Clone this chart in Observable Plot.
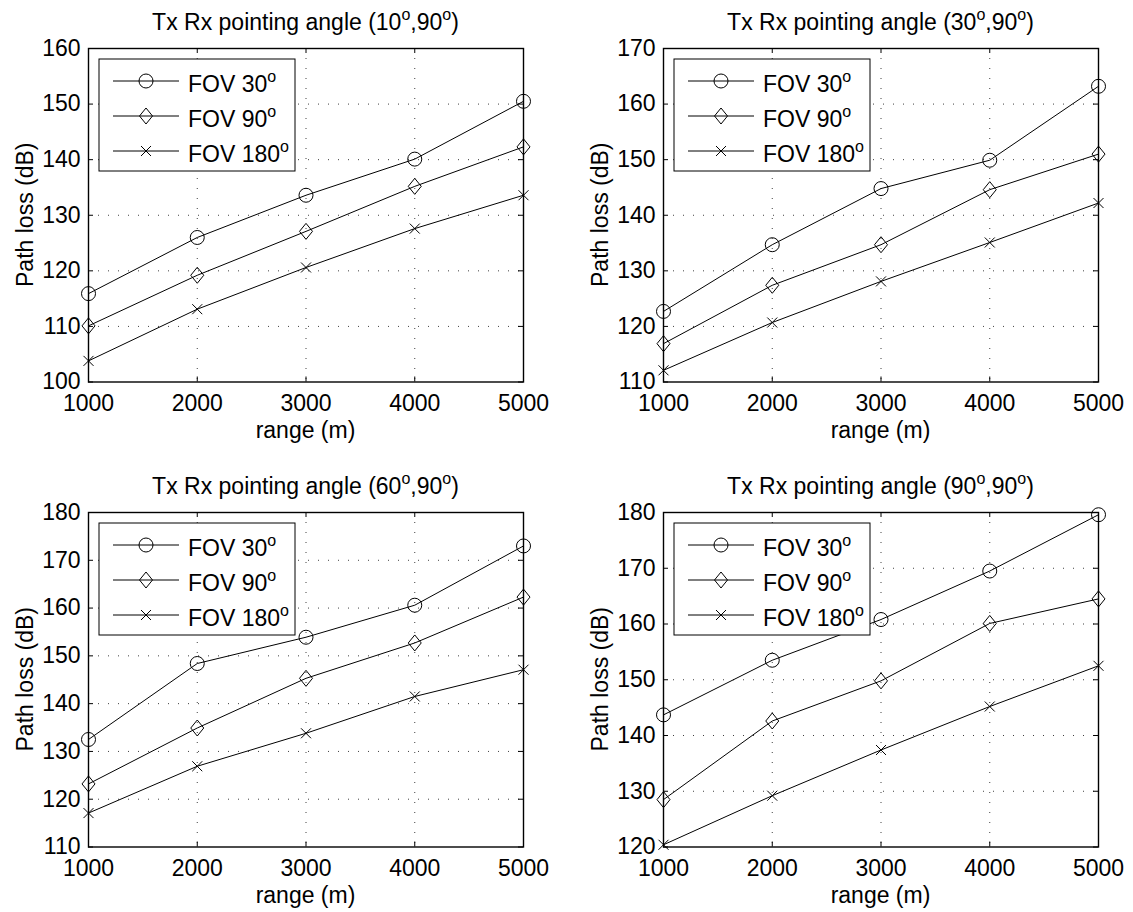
<!DOCTYPE html>
<html><head><meta charset="utf-8">
<script src="https://cdn.jsdelivr.net/npm/d3@7"></script>
<script src="https://cdn.jsdelivr.net/npm/@observablehq/plot@0.6"></script>
<style>
html,body{margin:0;padding:0;background:#fff;}
#wrap{position:relative;width:1133px;height:912px;overflow:hidden;background:#fff;}
#wrap svg{position:absolute;overflow:visible;}
</style></head><body><div id="wrap"></div>
<script>
// ---- data ----
const ranges = [1000, 2000, 3000, 4000, 5000];
const seriesNames = ["FOV 30", "FOV 90", "FOV 180"];
const xLabel = "range (m)";
const yLabel = "Path loss (dB)";

// Panel 1: Tx Rx pointing angle (10°,90°)
const p1_fov30  = [115.9, 126.0, 133.6, 140.1, 150.5];
const p1_fov90  = [110.1, 119.2, 127.1, 135.2, 142.3];
const p1_fov180 = [103.8, 113.1, 120.6, 127.6, 133.6];
// Panel 2: (30°,90°)
const p2_fov30  = [122.7, 134.7, 144.8, 149.9, 163.2];
const p2_fov90  = [116.9, 127.4, 134.7, 144.6, 151.0];
const p2_fov180 = [112.1, 120.7, 128.1, 135.1, 142.2];
// Panel 3: (60°,90°)
const p3_fov30  = [132.5, 148.4, 153.9, 160.6, 173.0];
const p3_fov90  = [123.2, 134.9, 145.3, 152.7, 162.3];
const p3_fov180 = [117.1, 126.9, 133.8, 141.5, 147.1];
// Panel 4: (90°,90°)
const p4_fov30  = [143.7, 153.5, 160.8, 169.5, 179.6];
const p4_fov90  = [128.5, 142.6, 149.8, 160.1, 164.5];
const p4_fov180 = [120.4, 129.2, 137.4, 145.2, 152.5];

const angles = [["10", "90"], ["30", "90"], ["60", "90"], ["90", "90"]];
const yDomains = [[100, 160], [110, 170], [110, 180], [120, 180]];

// ---- symbols (MATLAB-like markers) ----
const circleSym  = {draw(c) { c.moveTo(7, 0); c.arc(0, 0, 7, 0, 2 * Math.PI); }};
const diamondSym = {draw(c) { c.moveTo(0, -8); c.lineTo(6.5, 0); c.lineTo(0, 8); c.lineTo(-6.5, 0); c.closePath(); }};
const crossSym   = {draw(c) { c.moveTo(-5, -5); c.lineTo(5, 5); c.moveTo(-5, 5); c.lineTo(5, -5); }};
const symbols = [circleSym, diamondSym, crossSym];

// ---- layout ----
const panels = [
  {series: [p1_fov30, p1_fov90, p1_fov180], box: {left: 0,   top: 0,   width: 566, height: 464}, frame: {l: 88,  r: 523,  t: 48,  b: 381.5}},
  {series: [p2_fov30, p2_fov90, p2_fov180], box: {left: 566, top: 0,   width: 567, height: 464}, frame: {l: 663, r: 1098, t: 48,  b: 381.5}},
  {series: [p3_fov30, p3_fov90, p3_fov180], box: {left: 0,   top: 464, width: 566, height: 448}, frame: {l: 88,  r: 523,  t: 512, b: 846.5}},
  {series: [p4_fov30, p4_fov90, p4_fov180], box: {left: 566, top: 464, width: 567, height: 448}, frame: {l: 663, r: 1098, t: 512, b: 846.5}}
];

const FONT = '"Liberation Sans", Arial, Helvetica, sans-serif';
const FS = 23;
const SUP = 16;
const wrap = document.getElementById("wrap");

panels.forEach((pn, k) => {
  const rows = [];
  pn.series.forEach((vals, i) => vals.forEach((v, j) => rows.push({x: ranges[j], y: v, s: seriesNames[i], i})));
  const yDom = yDomains[k];
  const yTicks = d3.range(yDom[0], yDom[1] + 1, 10);
  const fw = pn.frame.r - pn.frame.l, fh = pn.frame.b - pn.frame.t;
  const ml = pn.frame.l - pn.box.left, mt = pn.frame.t - pn.box.top;
  const gridStyle = {stroke: "#000", strokeOpacity: 0.75, strokeWidth: 1, strokeDasharray: "1,9"};

  const svg = Plot.plot({
    width: pn.box.width, height: pn.box.height,
    marginLeft: ml, marginRight: pn.box.left + pn.box.width - pn.frame.r,
    marginTop: mt, marginBottom: pn.box.top + pn.box.height - pn.frame.b,
    style: {fontFamily: FONT, fontSize: FS + "px", background: "transparent", color: "#000"},
    x: {domain: [1000, 5000], ticks: ranges, tickSize: 0, tickPadding: 13, tickFormat: d => String(d), label: null},
    y: {domain: yDom, ticks: yTicks, tickSize: 0, tickPadding: 8, label: null},
    marks: [
      Plot.ruleX(ranges.slice(1, -1), {x: d => d, ...gridStyle}),
      Plot.ruleY(yTicks.slice(1, -1), {y: d => d, ...gridStyle}),
      Plot.tickX(ranges, {x: d => d, insetBottom: fh - 5, stroke: "#000"}),
      Plot.tickX(ranges, {x: d => d, insetTop: fh - 5, stroke: "#000"}),
      Plot.tickY(yTicks, {y: d => d, insetRight: fw - 5, stroke: "#000"}),
      Plot.tickY(yTicks, {y: d => d, insetLeft: fw - 5, stroke: "#000"}),
      Plot.line(rows, {x: "x", y: "y", z: "s", stroke: "#000", strokeWidth: 1}),
      ...symbols.map((sym, i) => Plot.dot(rows.filter(r => r.i === i), {x: "x", y: "y", symbol: sym, stroke: "#000", fill: "none", strokeWidth: 1})),
      Plot.frame({stroke: "#000", strokeWidth: 1.4})
    ]
  });
  svg.style.left = pn.box.left + "px";
  svg.style.top = pn.box.top + "px";
  wrap.appendChild(svg);

  const s = d3.select(svg);
  const cx = ml + fw / 2;

  // title with superscript degree marks
  const t = s.append("text").attr("x", cx).attr("y", mt - 18)
    .attr("text-anchor", "middle").attr("font-family", FONT).attr("font-size", FS).attr("fill", "#000");
  t.append("tspan").text("Tx Rx pointing angle (" + angles[k][0]);
  t.append("tspan").attr("dy", -10).attr("font-size", SUP).text("o");
  t.append("tspan").attr("dy", 10).text("," + angles[k][1]);
  t.append("tspan").attr("dy", -10).attr("font-size", SUP).text("o");
  t.append("tspan").attr("dy", 10).text(")");

  // axis labels
  s.append("text").attr("x", cx).attr("y", mt + fh + 56)
    .attr("text-anchor", "middle").attr("font-family", FONT).attr("font-size", FS).attr("fill", "#000").text(xLabel);
  s.append("text").attr("transform", `translate(${ml - 55},${mt + fh / 2}) rotate(-90)`)
    .attr("text-anchor", "middle").attr("font-family", FONT).attr("font-size", FS).attr("fill", "#000").text(yLabel);

  // legend
  const lg = s.append("g").attr("transform", `translate(${ml + 11},${mt + 11})`);
  lg.append("rect").attr("width", 196).attr("height", 112).attr("fill", "#fff").attr("stroke", "#000").attr("stroke-width", 1);
  seriesNames.forEach((name, i) => {
    const ry = 22 + i * 35;
    lg.append("line").attr("x1", 14).attr("x2", 80).attr("y1", ry).attr("y2", ry).attr("stroke", "#000");
    const p = d3.path(); symbols[i].draw(p);
    lg.append("path").attr("d", p.toString()).attr("transform", `translate(47,${ry})`)
      .attr("fill", "none").attr("stroke", "#000");
    const tx = lg.append("text").attr("x", 89).attr("y", ry + 11).attr("text-anchor", "start")
      .attr("font-family", FONT).attr("font-size", FS).attr("fill", "#000");
    tx.append("tspan").text(name);
    tx.append("tspan").attr("dy", -10).attr("font-size", SUP).text("o");
  });
});
</script></body></html>
